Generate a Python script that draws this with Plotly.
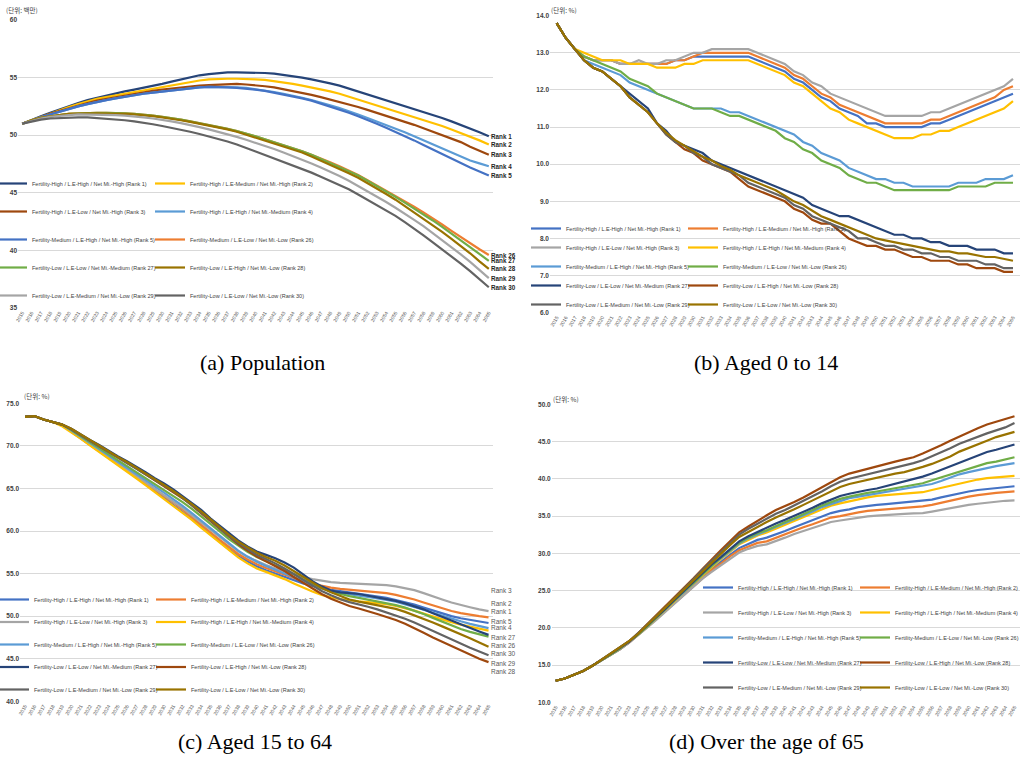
import plotly.graph_objects as go

# ---------------- shared categories ----------------
years = list(range(2015, 2066))
year_labels = [str(y) for y in years]
ranks = [1, 2, 3, 4, 5, 26, 27, 28, 29, 30]
scenario_labels = [
    "Fertility-High / L.E-High / Net Mi.-High (Rank 1)",
    "Fertility-High / L.E-Medium / Net Mi.-High (Rank 2)",
    "Fertility-High / L.E-Low / Net Mi.-High (Rank 3)",
    "Fertility-High / L.E-High / Net Mi.-Medium (Rank 4)",
    "Fertility-Medium / L.E-High / Net Mi.-High (Rank 5)",
    "Fertility-Medium / L.E-Low / Net Mi.-Low (Rank 26)",
    "Fertility-Low / L.E-Low / Net Mi.-Medium (Rank 27)",
    "Fertility-Low / L.E-High / Net Mi.-Low (Rank 28)",
    "Fertility-Low / L.E-Medium / Net Mi.-Low (Rank 29)",
    "Fertility-Low / L.E-Low / Net Mi.-Low (Rank 30)",
]
captions = ["(a) Population", "(b) Aged 0 to 14", "(c) Aged 15 to 64", "(d) Over the age of 65"]
unit_labels = ["(단위: 백만)", "(단위: %)", "(단위: %)", "(단위: %)"]

# ---------------- (a) Population, millions ----------------
pop_rank1 = [51.0, 51.35, 51.65, 51.95, 52.25, 52.55, 52.8, 53.05, 53.25, 53.45,
             53.6, 53.8, 53.95, 54.1, 54.3, 54.45, 54.65, 54.85, 55.05, 55.2,
             55.3, 55.4, 55.45, 55.45, 55.45, 55.45, 55.4, 55.35, 55.25, 55.15,
             55.0, 54.85, 54.7, 54.5, 54.3, 54.05, 53.8, 53.55, 53.3, 53.05,
             52.8, 52.55, 52.3, 52.05, 51.8, 51.5, 51.2, 50.9, 50.6, 50.25, 49.9]
pop_rank2 = [51.0, 51.3, 51.6, 51.9, 52.2, 52.45, 52.7, 52.95, 53.15, 53.3,
             53.45, 53.6, 53.75, 53.9, 54.05, 54.2, 54.35, 54.5, 54.65, 54.75,
             54.85, 54.9, 54.9, 54.9, 54.9, 54.85, 54.8, 54.7, 54.6, 54.45,
             54.3, 54.15, 54.0, 53.8, 53.6, 53.35, 53.1, 52.85, 52.6, 52.35,
             52.1, 51.85, 51.6, 51.35, 51.1, 50.8, 50.5, 50.2, 49.9, 49.55, 49.2]
pop_rank3 = [51.0, 51.3, 51.6, 51.85, 52.1, 52.35, 52.6, 52.8, 53.0, 53.15,
             53.3, 53.45, 53.6, 53.75, 53.85, 53.95, 54.05, 54.15, 54.25, 54.3,
             54.35, 54.4, 54.45, 54.45, 54.4, 54.35, 54.25, 54.15, 54.0, 53.85,
             53.7, 53.5, 53.3, 53.1, 52.9, 52.7, 52.45, 52.2, 51.95, 51.7,
             51.4, 51.15, 50.9, 50.6, 50.3, 50.0, 49.7, 49.4, 49.0, 48.65, 48.3]
pop_rank4 = [51.0, 51.3, 51.55, 51.8, 52.05, 52.3, 52.5, 52.7, 52.9, 53.05,
             53.2, 53.35, 53.5, 53.6, 53.7, 53.8, 53.9, 54.0, 54.1, 54.15,
             54.2, 54.2, 54.2, 54.15, 54.1, 54.0, 53.9, 53.75, 53.6, 53.45,
             53.25, 53.05, 52.85, 52.6, 52.35, 52.1, 51.8, 51.5, 51.2, 50.9,
             50.6, 50.25, 49.9, 49.55, 49.2, 48.85, 48.5, 48.15, 47.8, 47.55, 47.3]
pop_rank5 = [51.0, 51.3, 51.55, 51.8, 52.05, 52.3, 52.5, 52.7, 52.9, 53.05,
             53.2, 53.35, 53.5, 53.6, 53.7, 53.8, 53.9, 54.0, 54.1, 54.15,
             54.2, 54.2, 54.15, 54.1, 54.05, 53.95, 53.85, 53.7, 53.55, 53.4,
             53.2, 53.0, 52.75, 52.5, 52.25, 51.95, 51.65, 51.35, 51.0, 50.65,
             50.3, 49.95, 49.55, 49.15, 48.75, 48.35, 47.95, 47.6, 47.2, 46.85, 46.5]
pop_rank26 = [51.0, 51.3, 51.5, 51.65, 51.75, 51.85, 51.9, 51.95, 51.95, 51.95,
              51.95, 51.9, 51.85, 51.8, 51.7, 51.6, 51.5, 51.35, 51.2, 51.05,
              50.9, 50.75, 50.55, 50.35, 50.15, 49.9, 49.65, 49.4, 49.15, 48.9,
              48.6, 48.3, 48.0, 47.65, 47.3, 46.95, 46.55, 46.1, 45.65, 45.2,
              44.75, 44.3, 43.8, 43.3, 42.8, 42.25, 41.7, 41.15, 40.6, 40.1, 39.6]
pop_rank27 = [51.0, 51.3, 51.5, 51.65, 51.75, 51.85, 51.9, 51.95, 51.95, 51.95,
              51.95, 51.9, 51.85, 51.8, 51.7, 51.6, 51.5, 51.35, 51.2, 51.05,
              50.9, 50.75, 50.55, 50.35, 50.15, 49.9, 49.65, 49.4, 49.15, 48.9,
              48.6, 48.3, 47.95, 47.6, 47.25, 46.9, 46.5, 46.05, 45.6, 45.15,
              44.65, 44.15, 43.65, 43.15, 42.6, 42.05, 41.45, 40.85, 40.25, 39.65, 39.1]
pop_rank28 = [51.0, 51.3, 51.5, 51.65, 51.75, 51.85, 51.9, 51.9, 51.9, 51.9,
              51.9, 51.85, 51.8, 51.75, 51.65, 51.55, 51.45, 51.3, 51.15, 51.0,
              50.85, 50.7, 50.5, 50.3, 50.05, 49.8, 49.55, 49.3, 49.05, 48.8,
              48.5, 48.15, 47.8, 47.45, 47.1, 46.7, 46.3, 45.85, 45.4, 44.9,
              44.4, 43.85, 43.3, 42.75, 42.2, 41.6, 41.0, 40.4, 39.75, 39.05, 38.4]
pop_rank29 = [51.0, 51.25, 51.45, 51.6, 51.7, 51.75, 51.8, 51.8, 51.8, 51.8,
              51.75, 51.7, 51.65, 51.55, 51.45, 51.35, 51.2, 51.05, 50.9, 50.7,
              50.5, 50.3, 50.1, 49.85, 49.6, 49.35, 49.1, 48.8, 48.5, 48.2,
              47.9, 47.55, 47.2, 46.85, 46.45, 46.05, 45.6, 45.15, 44.7, 44.2,
              43.7, 43.2, 42.65, 42.1, 41.5, 40.9, 40.3, 39.65, 39.0, 38.3, 37.6]
pop_rank30 = [51.0, 51.2, 51.35, 51.45, 51.5, 51.55, 51.55, 51.55, 51.5, 51.45,
              51.4, 51.3, 51.2, 51.1, 50.95, 50.8, 50.65, 50.5, 50.3, 50.1,
              49.9, 49.7, 49.45, 49.2, 48.9, 48.6, 48.3, 48.0, 47.7, 47.4,
              47.1, 46.75, 46.4, 46.05, 45.7, 45.3, 44.85, 44.4, 43.95, 43.5,
              43.0, 42.45, 41.9, 41.3, 40.7, 40.1, 39.5, 38.85, 38.2, 37.5, 36.8]

# ---------------- (b) Aged 0 to 14, % ----------------
kid_rank1 = [13.8, 13.4, 13.1, 12.9, 12.8, 12.8, 12.8, 12.7, 12.7, 12.7,
             12.7, 12.7, 12.7, 12.8, 12.8, 12.9, 12.9, 12.9, 12.9, 12.9,
             12.9, 12.9, 12.8, 12.7, 12.6, 12.5, 12.3, 12.2, 12.0, 11.8,
             11.7, 11.5, 11.4, 11.3, 11.1, 11.1, 11.0, 11.0, 11.0, 11.0,
             11.0, 11.1, 11.1, 11.2, 11.3, 11.4, 11.5, 11.6, 11.7, 11.8, 11.9]
kid_rank2 = [13.8, 13.4, 13.1, 12.9, 12.8, 12.8, 12.8, 12.7, 12.7, 12.7,
             12.7, 12.7, 12.7, 12.8, 12.8, 12.9, 13.0, 13.0, 13.0, 13.0,
             13.0, 13.0, 12.9, 12.8, 12.7, 12.6, 12.4, 12.3, 12.1, 11.9,
             11.8, 11.6, 11.5, 11.4, 11.3, 11.2, 11.1, 11.1, 11.1, 11.1,
             11.1, 11.2, 11.2, 11.3, 11.4, 11.5, 11.6, 11.7, 11.8, 12.0, 12.1]
kid_rank3 = [13.8, 13.4, 13.1, 12.9, 12.8, 12.8, 12.8, 12.7, 12.7, 12.8,
             12.7, 12.7, 12.8, 12.8, 12.9, 13.0, 13.0, 13.1, 13.1, 13.1,
             13.1, 13.1, 13.0, 12.9, 12.8, 12.7, 12.5, 12.4, 12.2, 12.1,
             11.9, 11.8, 11.7, 11.6, 11.5, 11.4, 11.3, 11.3, 11.3, 11.3,
             11.3, 11.4, 11.4, 11.5, 11.6, 11.7, 11.8, 11.9, 12.0, 12.1, 12.3]
kid_rank4 = [13.8, 13.4, 13.1, 13.0, 12.9, 12.8, 12.8, 12.8, 12.7, 12.7,
             12.7, 12.6, 12.6, 12.6, 12.7, 12.7, 12.8, 12.8, 12.8, 12.8,
             12.8, 12.8, 12.7, 12.6, 12.5, 12.4, 12.2, 12.1, 11.9, 11.7,
             11.5, 11.4, 11.2, 11.1, 11.0, 10.9, 10.8, 10.7, 10.7, 10.7,
             10.8, 10.8, 10.9, 10.9, 11.0, 11.1, 11.2, 11.3, 11.4, 11.5, 11.7]
kid_rank5 = [13.8, 13.4, 13.1, 12.8, 12.7, 12.6, 12.5, 12.4, 12.2, 12.1,
             12.0, 11.9, 11.8, 11.7, 11.6, 11.5, 11.5, 11.5, 11.5, 11.4,
             11.4, 11.3, 11.2, 11.1, 11.0, 10.9, 10.8, 10.6, 10.5, 10.3,
             10.2, 10.1, 9.9, 9.8, 9.7, 9.6, 9.6, 9.5, 9.5, 9.4,
             9.4, 9.4, 9.4, 9.4, 9.5, 9.5, 9.5, 9.6, 9.6, 9.6, 9.7]
kid_rank26 = [13.8, 13.4, 13.1, 12.9, 12.8, 12.7, 12.6, 12.5, 12.3, 12.2,
              12.1, 11.9, 11.8, 11.7, 11.6, 11.5, 11.5, 11.5, 11.4, 11.3,
              11.3, 11.2, 11.1, 11.0, 10.9, 10.7, 10.6, 10.4, 10.3, 10.1,
              10.0, 9.9, 9.7, 9.6, 9.5, 9.5, 9.4, 9.3, 9.3, 9.3,
              9.3, 9.3, 9.3, 9.3, 9.4, 9.4, 9.4, 9.4, 9.5, 9.5, 9.5]
kid_rank27 = [13.8, 13.4, 13.1, 12.8, 12.6, 12.5, 12.3, 12.1, 11.9, 11.7,
              11.5, 11.1, 10.9, 10.6, 10.5, 10.4, 10.3, 10.1, 10.0, 9.9,
              9.8, 9.7, 9.6, 9.5, 9.4, 9.3, 9.2, 9.1, 8.9, 8.8,
              8.7, 8.6, 8.6, 8.5, 8.4, 8.3, 8.2, 8.1, 8.1, 8.0,
              8.0, 7.9, 7.9, 7.8, 7.8, 7.8, 7.7, 7.7, 7.7, 7.6, 7.6]
kid_rank28 = [13.8, 13.4, 13.1, 12.8, 12.6, 12.5, 12.3, 12.1, 11.8, 11.6,
              11.4, 11.1, 10.8, 10.6, 10.4, 10.3, 10.1, 10.0, 9.9, 9.8,
              9.6, 9.4, 9.3, 9.2, 9.1, 9.0, 8.8, 8.7, 8.5, 8.4,
              8.4, 8.2, 8.0, 7.9, 7.8, 7.8, 7.7, 7.7, 7.6, 7.5,
              7.5, 7.4, 7.4, 7.4, 7.3, 7.3, 7.2, 7.2, 7.2, 7.1, 7.1]
kid_rank29 = [13.8, 13.4, 13.1, 12.8, 12.6, 12.5, 12.3, 12.1, 11.8, 11.6,
              11.4, 11.1, 10.8, 10.6, 10.5, 10.3, 10.2, 10.0, 9.9, 9.8,
              9.7, 9.5, 9.4, 9.3, 9.2, 9.1, 8.9, 8.8, 8.6, 8.5,
              8.4, 8.3, 8.2, 8.0, 8.0, 7.9, 7.8, 7.8, 7.7, 7.7,
              7.6, 7.6, 7.5, 7.5, 7.4, 7.4, 7.4, 7.3, 7.3, 7.2, 7.2]
kid_rank30 = [13.8, 13.4, 13.1, 12.8, 12.6, 12.5, 12.3, 12.1, 11.8, 11.6,
              11.4, 11.1, 10.85, 10.65, 10.5, 10.35, 10.2, 10.1, 9.95, 9.85,
              9.7, 9.6, 9.5, 9.4, 9.3, 9.15, 9.0, 8.9, 8.75, 8.6,
              8.5, 8.4, 8.3, 8.2, 8.1, 8.0, 7.95, 7.9, 7.85, 7.8,
              7.75, 7.7, 7.65, 7.65, 7.6, 7.6, 7.55, 7.5, 7.5, 7.45, 7.4]

# ---------------- (c) Aged 15 to 64, % ----------------
work_rank1 = [73.4, 73.5, 73.1, 72.8, 72.5, 71.65, 70.9, 70.1, 69.35, 68.55,
              67.8, 67.05, 66.3, 65.5, 64.7, 63.9, 63.1, 62.25, 61.4, 60.5,
              59.6, 58.7, 57.85, 57.05, 56.4, 55.85, 55.4, 55.0, 54.6, 54.2,
              53.85, 53.55, 53.3, 53.1, 52.95, 52.8, 52.65, 52.5, 52.35, 52.15,
              51.9, 51.65, 51.35, 51.0, 50.65, 50.3, 50.0, 49.75, 49.55, 49.35, 49.2]
work_rank2 = [73.4, 73.5, 73.1, 72.8, 72.5, 71.7, 70.95, 70.2, 69.45, 68.7,
              67.95, 67.2, 66.45, 65.7, 64.95, 64.15, 63.35, 62.5, 61.65, 60.75,
              59.85, 58.95, 58.1, 57.3, 56.65, 56.1, 55.65, 55.25, 54.85, 54.45,
              54.1, 53.8, 53.55, 53.35, 53.2, 53.1, 53.0, 52.95, 52.85, 52.7,
              52.5, 52.25, 51.95, 51.6, 51.25, 50.9, 50.6, 50.35, 50.15, 50.0, 49.85]
work_rank3 = [73.4, 73.5, 73.1, 72.8, 72.5, 71.75, 71.0, 70.25, 69.5, 68.75,
              68.0, 67.3, 66.55, 65.8, 65.05, 64.3, 63.5, 62.7, 61.85, 61.0,
              60.1, 59.2, 58.35, 57.6, 56.95, 56.45, 56.0, 55.6, 55.25, 54.9,
              54.6, 54.35, 54.15, 54.0, 53.9, 53.85, 53.8, 53.8, 53.75, 53.65,
              53.5, 53.3, 53.05, 52.7, 52.3, 51.95, 51.6, 51.3, 51.05, 50.8, 50.6]
work_rank4 = [73.4, 73.5, 73.1, 72.8, 72.3, 71.6, 70.85, 70.05, 69.3, 68.5,
              67.7, 66.95, 66.2, 65.4, 64.6, 63.8, 63.0, 62.15, 61.3, 60.4,
              59.5, 58.6, 57.7, 56.9, 56.2, 55.6, 55.2, 54.8, 54.35, 53.85,
              53.35, 52.9, 52.5, 52.2, 52.0, 51.85, 51.75, 51.65, 51.55, 51.4,
              51.2, 50.95, 50.65, 50.3, 49.95, 49.6, 49.3, 49.0, 48.75, 48.5, 48.3]
work_rank5 = [73.4, 73.5, 73.1, 72.8, 72.5, 71.8, 71.1, 70.35, 69.6, 68.9,
              68.15, 67.45, 66.75, 66.0, 65.25, 64.5, 63.75, 62.95, 62.1, 61.2,
              60.3, 59.4, 58.5, 57.7, 57.0, 56.4, 55.9, 55.45, 55.0, 54.55,
              54.1, 53.65, 53.25, 52.95, 52.75, 52.55, 52.4, 52.25, 52.1, 51.9,
              51.7, 51.4, 51.1, 50.75, 50.4, 50.05, 49.7, 49.4, 49.1, 48.85, 48.6]
work_rank26 = [73.4, 73.5, 73.1, 72.8, 72.5, 71.85, 71.15, 70.45, 69.75, 69.05,
               68.35, 67.7, 67.0, 66.3, 65.6, 64.9, 64.15, 63.4, 62.6, 61.75,
               60.85, 59.95, 59.05, 58.25, 57.55, 56.95, 56.45, 56.0, 55.5, 54.95,
               54.35, 53.8, 53.3, 52.9, 52.6, 52.35, 52.15, 51.95, 51.75, 51.55,
               51.3, 51.0, 50.65, 50.25, 49.8, 49.35, 48.9, 48.5, 48.15, 47.85, 47.6]
work_rank27 = [73.4, 73.5, 73.1, 72.8, 72.5, 72.0, 71.3, 70.7, 70.1, 69.4,
               68.8, 68.2, 67.6, 66.9, 66.2, 65.6, 64.9, 64.1, 63.3, 62.5,
               61.5, 60.6, 59.7, 58.9, 58.2, 57.6, 57.2, 56.8, 56.3, 55.7,
               54.9, 54.1, 53.5, 53.0, 52.8, 52.7, 52.6, 52.4, 52.2, 52.0,
               51.8, 51.5, 51.15, 50.8, 50.35, 49.95, 49.5, 49.05, 48.6, 48.2, 47.8]
work_rank28 = [73.4, 73.5, 73.1, 72.8, 72.5, 71.95, 71.25, 70.6, 69.95, 69.3,
               68.6, 68.0, 67.35, 66.65, 65.95, 65.3, 64.6, 63.85, 63.0, 62.1,
               61.15, 60.2, 59.3, 58.45, 57.7, 57.0, 56.45, 55.9, 55.3, 54.6,
               53.9, 53.2, 52.6, 52.05, 51.6, 51.2, 50.9, 50.6, 50.25, 49.9,
               49.55, 49.1, 48.6, 48.05, 47.5, 47.0, 46.45, 45.95, 45.45, 45.0, 44.6]
work_rank29 = [73.4, 73.5, 73.1, 72.8, 72.5, 71.95, 71.25, 70.6, 69.95, 69.3,
               68.65, 68.05, 67.4, 66.7, 66.0, 65.35, 64.65, 63.9, 63.05, 62.2,
               61.25, 60.3, 59.4, 58.6, 57.85, 57.2, 56.7, 56.2, 55.6, 54.95,
               54.25, 53.55, 52.95, 52.45, 52.0, 51.65, 51.4, 51.1, 50.8, 50.45,
               50.1, 49.7, 49.25, 48.75, 48.25, 47.75, 47.25, 46.75, 46.3, 45.85, 45.4]
work_rank30 = [73.4, 73.5, 73.1, 72.8, 72.5, 72.0, 71.3, 70.7, 70.05, 69.35,
               68.7, 68.1, 67.45, 66.75, 66.05, 65.4, 64.7, 63.95, 63.15, 62.3,
               61.35, 60.45, 59.55, 58.75, 58.05, 57.45, 56.95, 56.5, 55.95, 55.3,
               54.6, 53.9, 53.3, 52.8, 52.35, 51.95, 51.7, 51.5, 51.3, 51.1,
               50.85, 50.5, 50.1, 49.7, 49.25, 48.8, 48.35, 47.9, 47.4, 46.9, 46.4]

# ---------------- (d) Over the age of 65, % ----------------
old_rank1 = [12.9, 13.2, 13.7, 14.2, 14.9, 15.6, 16.3, 17.1, 18.0, 19.1,
             20.1, 21.2, 22.4, 23.5, 24.6, 25.7, 26.9, 27.9, 28.8, 29.8,
             30.7, 31.3, 31.8, 32.1, 32.5, 33.0, 33.5, 34.0, 34.5, 35.0,
             35.4, 35.7, 35.9, 36.2, 36.4, 36.5, 36.6, 36.7, 36.8, 36.9,
             37.0, 37.2, 37.5, 37.8, 38.1, 38.3, 38.5, 38.6, 38.8, 38.9, 39.0]
old_rank2 = [12.9, 13.2, 13.7, 14.2, 14.9, 15.6, 16.3, 17.1, 18.0, 19.0,
             20.1, 21.2, 22.3, 23.4, 24.5, 25.6, 26.7, 27.7, 28.6, 29.6,
             30.4, 30.9, 31.4, 31.6, 32.1, 32.6, 33.1, 33.5, 33.9, 34.4,
             34.8, 35.0, 35.3, 35.5, 35.7, 35.8, 35.9, 36.0, 36.1, 36.2,
             36.3, 36.5, 36.8, 37.1, 37.4, 37.6, 37.8, 38.0, 38.1, 38.2, 38.3]
old_rank3 = [12.9, 13.2, 13.7, 14.2, 14.9, 15.6, 16.3, 17.1, 18.0, 19.0,
             20.0, 21.1, 22.2, 23.3, 24.4, 25.5, 26.6, 27.5, 28.4, 29.3,
             30.1, 30.6, 31.0, 31.2, 31.6, 32.1, 32.6, 33.0, 33.4, 33.9,
             34.2, 34.4, 34.6, 34.8, 34.95, 35.05, 35.15, 35.25, 35.3, 35.35,
             35.4, 35.6, 35.85, 36.1, 36.35, 36.5, 36.65, 36.8, 36.95, 37.05, 37.1]
old_rank4 = [12.9, 13.2, 13.7, 14.2, 14.9, 15.6, 16.4, 17.2, 18.1, 19.1,
             20.2, 21.3, 22.5, 23.6, 24.8, 25.9, 27.1, 28.2, 29.2, 30.2,
             31.2, 31.8, 32.4, 32.8, 33.3, 33.8, 34.3, 34.8, 35.3, 35.9,
             36.4, 36.7, 37.0, 37.3, 37.5, 37.7, 37.8, 37.9, 38.0, 38.1,
             38.2, 38.5, 38.8, 39.1, 39.4, 39.7, 39.9, 40.1, 40.2, 40.3, 40.4]
old_rank5 = [12.9, 13.2, 13.7, 14.2, 14.9, 15.6, 16.4, 17.2, 18.1, 19.1,
             20.2, 21.4, 22.5, 23.7, 24.8, 26.0, 27.2, 28.3, 29.3, 30.3,
             31.3, 32.0, 32.5, 33.0, 33.5, 34.0, 34.5, 35.0, 35.6, 36.2,
             36.6, 37.0, 37.4, 37.6, 37.8, 38.0, 38.2, 38.4, 38.6, 38.8,
             39.0, 39.3, 39.7, 40.2, 40.6, 40.9, 41.2, 41.5, 41.7, 41.9, 42.1]
old_rank26 = [12.9, 13.2, 13.7, 14.2, 14.9, 15.6, 16.4, 17.2, 18.1, 19.1,
              20.2, 21.4, 22.5, 23.7, 24.9, 26.0, 27.2, 28.3, 29.4, 30.4,
              31.4, 32.1, 32.7, 33.1, 33.7, 34.2, 34.7, 35.2, 35.8, 36.4,
              36.9, 37.3, 37.6, 37.9, 38.1, 38.3, 38.5, 38.8, 39.0, 39.1,
              39.4, 39.8, 40.2, 40.6, 41.0, 41.4, 41.7, 42.1, 42.3, 42.6, 42.9]
old_rank27 = [12.9, 13.2, 13.7, 14.2, 14.9, 15.7, 16.4, 17.2, 18.1, 19.2,
              20.3, 21.4, 22.6, 23.8, 25.0, 26.1, 27.3, 28.5, 29.5, 30.6,
              31.6, 32.3, 32.9, 33.4, 34.0, 34.5, 35.0, 35.5, 36.1, 36.7,
              37.2, 37.7, 38.0, 38.3, 38.5, 38.7, 39.0, 39.3, 39.6, 39.9,
              40.3, 40.7, 41.2, 41.7, 42.2, 42.7, 43.2, 43.6, 43.9, 44.2, 44.6]
old_rank28 = [12.9, 13.2, 13.7, 14.2, 14.9, 15.7, 16.5, 17.3, 18.2, 19.3,
              20.5, 21.7, 22.9, 24.1, 25.4, 26.6, 27.9, 29.2, 30.4, 31.6,
              32.8, 33.6, 34.4, 35.1, 35.8, 36.3, 36.9, 37.5, 38.2, 38.9,
              39.6, 40.2, 40.7, 41.0, 41.3, 41.6, 41.9, 42.3, 42.6, 42.9,
              43.4, 43.9, 44.5, 45.1, 45.7, 46.3, 46.8, 47.3, 47.7, 48.0, 48.4]
old_rank29 = [12.9, 13.2, 13.7, 14.2, 14.9, 15.7, 16.5, 17.3, 18.2, 19.3,
              20.4, 21.6, 22.8, 24.0, 25.3, 26.5, 27.8, 29.0, 30.2, 31.4,
              32.5, 33.3, 34.0, 34.7, 35.3, 35.8, 36.4, 37.0, 37.7, 38.3,
              39.0, 39.6, 40.0, 40.3, 40.6, 40.9, 41.2, 41.5, 41.8, 42.1,
              42.5, 43.0, 43.5, 44.1, 44.7, 45.2, 45.7, 46.1, 46.5, 46.9, 47.5]
old_rank30 = [12.9, 13.2, 13.7, 14.2, 14.9, 15.7, 16.5, 17.3, 18.2, 19.2,
              20.4, 21.6, 22.7, 23.9, 25.2, 26.4, 27.6, 28.8, 29.9, 31.1,
              32.2, 32.9, 33.6, 34.2, 34.8, 35.3, 35.9, 36.5, 37.1, 37.8,
              38.4, 38.9, 39.3, 39.6, 39.8, 40.1, 40.4, 40.7, 40.9, 41.2,
              41.6, 42.0, 42.5, 43.0, 43.65, 44.1, 44.6, 45.1, 45.6, 45.9, 46.3]

pop_series = [pop_rank1, pop_rank2, pop_rank3, pop_rank4, pop_rank5,
              pop_rank26, pop_rank27, pop_rank28, pop_rank29, pop_rank30]
kid_series = [kid_rank1, kid_rank2, kid_rank3, kid_rank4, kid_rank5,
              kid_rank26, kid_rank27, kid_rank28, kid_rank29, kid_rank30]
work_series = [work_rank1, work_rank2, work_rank3, work_rank4, work_rank5,
               work_rank26, work_rank27, work_rank28, work_rank29, work_rank30]
old_series = [old_rank1, old_rank2, old_rank3, old_rank4, old_rank5,
              old_rank26, old_rank27, old_rank28, old_rank29, old_rank30]

# ---------------- styles ----------------
NAVY, YELLOW, BROWN, LBLUE, BLUE = "#264478", "#FFC000", "#9E480E", "#5B9BD5", "#4472C4"
ORANGE, GREEN, OLIVE, GRAY, DGRAY = "#ED7D31", "#70AD47", "#997300", "#A5A5A5", "#636363"
colors_pop = [NAVY, YELLOW, BROWN, LBLUE, BLUE, ORANGE, GREEN, OLIVE, GRAY, DGRAY]
colors_std = [BLUE, ORANGE, GRAY, YELLOW, LBLUE, GREEN, NAVY, BROWN, DGRAY, OLIVE]
NARROW = "Liberation Sans Narrow, Arial Narrow, Liberation Sans, sans-serif"
W, H = 1020, 765
left_ranks = [1, 3, 5, 27, 29]

panels = [
    dict(series=pop_series, colors=colors_pop, xa="x", ya="y", legs=("legend", "legend2"), key="a"),
    dict(series=kid_series, colors=colors_std, xa="x2", ya="y2", legs=("legend3", "legend4"), key="b"),
    dict(series=work_series, colors=colors_std, xa="x3", ya="y3", legs=("legend5", "legend6"), key="c"),
    dict(series=old_series, colors=colors_std, xa="x4", ya="y4", legs=("legend7", "legend8"), key="d"),
]

fig = go.Figure()
for p in panels:
    for i, r in enumerate(ranks):
        leg = p["legs"][0] if r in left_ranks else p["legs"][1]
        fig.add_trace(go.Scatter(
            x=years, y=p["series"][i], mode="lines", name=scenario_labels[i],
            line=dict(color=p["colors"][i], width=2.2),
            xaxis=p["xa"], yaxis=p["ya"], legend=leg, legendgroup=f"{p['key']}{r}",
            hoverinfo="skip"))


def xaxis(domain, rng, anchor):
    return dict(domain=domain, range=rng, anchor=anchor, tickmode="array",
                tickvals=years, ticktext=year_labels, tickangle=-60,
                tickfont=dict(size=5, color="#595959", family=NARROW),
                showgrid=False, zeroline=False, showline=False, ticks="",
                automargin=False, fixedrange=True)


def yaxis(domain, rng, anchor, dtick, fmt):
    return dict(domain=domain, range=rng, anchor=anchor, dtick=dtick, tick0=0,
                tickformat=fmt, showgrid=True, gridcolor="#D9D9D9", gridwidth=1,
                zeroline=False, showline=False, ticks="",
                tickfont=dict(size=6.5, color="#404040", family=NARROW, weight="bold"),
                automargin=False, fixedrange=True)


def px_x(v):
    return v / W


def px_y(v):
    return 1 - v / H


fig.update_layout(
    xaxis=xaxis([px_x(18), px_x(493)], [2014.55, 2065.45], "y"),
    yaxis=yaxis([px_y(308), px_y(20)], [35, 60], "x", 5, "d"),
    xaxis2=xaxis([px_x(550), 1.0], [2014.27, 2065.77], "y2"),
    yaxis2=yaxis([px_y(312.7), px_y(15.7)], [6, 14], "x2", 1, ".1f"),
    xaxis3=xaxis([px_x(20), px_x(492.7)], [2014.46, 2065.45], "y3"),
    yaxis3=yaxis([px_y(701.3), px_y(403.3)], [40, 75], "x3", 5, ".1f"),
    xaxis4=xaxis([px_x(551.7), 1.0], [2014.57, 2065.6], "y4"),
    yaxis4=yaxis([px_y(702.3), px_y(404.3)], [10, 50], "x4", 5, ".1f"),
)

# legends: (left column text x, right column text x, first row centre y, row gap)
legend_geo = {
    "a": (32, 190, 183, 9),
    "b": (566, 723, 228, 0),
    "c": (34, 191, 599, 3.5),
    "d": (738, 895, 587, 6),
}
TEXT_DX = 40      # legend left edge -> start of entry text
ROW_DY = 14       # legend top -> centre of first entry
legend_font = dict(size=5.5, color="#404040", family=NARROW)
leg_layout = {}
for p in panels:
    lx, rx, ty, gap = legend_geo[p["key"]]
    for name, tx in zip(p["legs"], (lx, rx)):
        leg_layout[name] = dict(
            x=px_x(tx - TEXT_DX), y=px_y(ty - ROW_DY), xanchor="left", yanchor="top",
            orientation="v", bgcolor="rgba(0,0,0,0)", borderwidth=0,
            font=legend_font, tracegroupgap=gap, itemwidth=30, traceorder="grouped")
fig.update_layout(**leg_layout)

annotations = []
# captions
cap_pos = [(262, 362), (766, 362), (255, 741), (766, 741)]
for text, (cx, cy) in zip(captions, cap_pos):
    annotations.append(dict(text=text, x=px_x(cx), y=px_y(cy), xref="paper", yref="paper",
                            xanchor="center", yanchor="middle", showarrow=False,
                            font=dict(size=22, color="#000000", family="Liberation Serif, DejaVu Serif, serif")))
# unit labels
unit_pos = [(4, 10), (549, 10), (22, 396), (551, 399)]
for text, (ux, uy) in zip(unit_labels, unit_pos):
    annotations.append(dict(text=text, x=px_x(ux), y=px_y(uy), xref="paper", yref="paper",
                            xanchor="left", yanchor="middle", showarrow=False,
                            font=dict(size=6.5, color="#404040", family="Noto Sans CJK KR")))
# rank labels at line ends, panel (a)
for i, r in enumerate(ranks):
    annotations.append(dict(text=f"Rank {r}", x=years[-1], y=pop_series[i][-1], xref="x", yref="y",
                            xanchor="left", yanchor="middle", xshift=0, showarrow=False,
                            font=dict(size=6.3, color="#262626", family=NARROW, weight="bold")))
# rank labels at line ends, panel (c) (spread apart like the original)
label_shift_c = {1: 11, 2: 14, 3: 21, 4: 3, 5: 7, 26: -9, 27: -3, 28: -9, 29: -8, 30: -7}
for i, r in enumerate(ranks):
    annotations.append(dict(text=f"Rank {r}", x=years[-1], y=work_series[i][-1], xref="x3", yref="y3",
                            xanchor="left", yanchor="middle", xshift=0, yshift=label_shift_c[r],
                            showarrow=False,
                            font=dict(size=6.5, color="#595959", family=NARROW)))

fig.update_layout(
    width=W, height=H, autosize=False,
    margin=dict(l=0, r=0, t=0, b=0, autoexpand=False),
    paper_bgcolor="white", plot_bgcolor="white",
    annotations=annotations,
    showlegend=True,
)

# remove the browser's default 8px page margin so the figure fills the window exactly
page_js = "document.body.style.margin='0px';document.body.style.padding='0px';document.documentElement.style.overflow='hidden';"
fig.write_html("out.html", config={"displayModeBar": False}, post_script=page_js)
